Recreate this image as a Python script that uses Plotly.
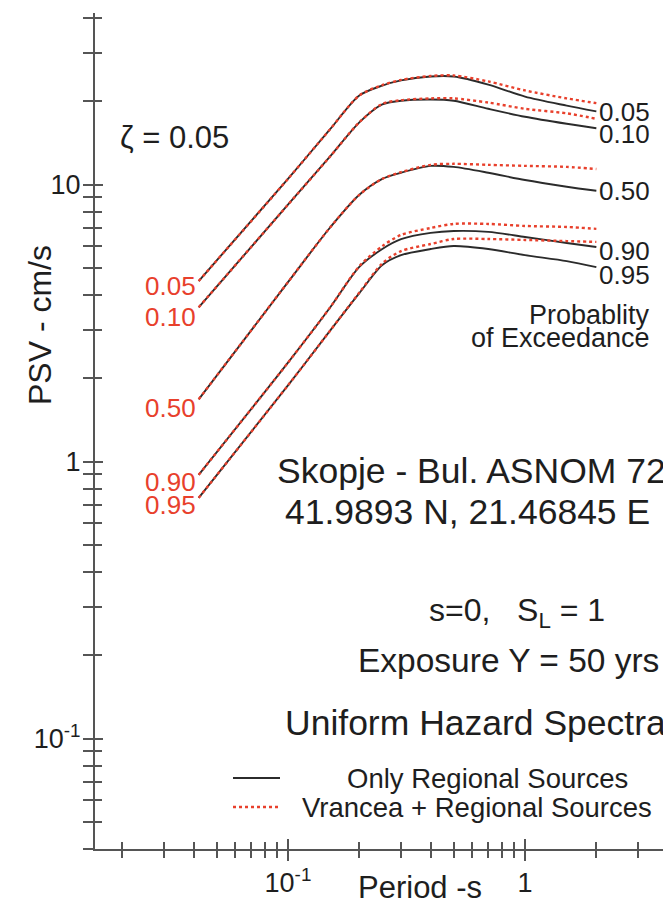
import numpy as np
import plotly.graph_objects as go

# ---------------- data ----------------
periods = [0.042, 0.1, 0.15, 0.2, 0.25, 0.3, 0.4, 0.5, 0.7, 1.0, 1.5, 2.0]
prob_labels = ["0.05", "0.10", "0.50", "0.90", "0.95"]

regional = {
    "0.05": [4.49, 10.5, 15.8, 21.0, 22.8, 23.8, 24.6, 24.6, 23.0, 20.8, 19.3, 18.4],
    "0.10": [3.61, 8.47, 12.6, 16.8, 19.5, 20.1, 20.3, 20.1, 18.8, 17.6, 16.6, 16.0],
    "0.50": [1.68, 4.45, 6.98, 9.2, 10.5, 11.05, 11.7, 11.6, 11.05, 10.4, 9.84, 9.51],
    "0.90": [0.897, 2.28, 3.59, 5.05, 5.86, 6.36, 6.70, 6.81, 6.76, 6.48, 6.16, 5.96],
    "0.95": [0.741, 1.886, 2.96, 4.06, 5.13, 5.57, 5.86, 6.01, 5.86, 5.57, 5.30, 5.04],
}
vrancea = {
    "0.05": [4.49, 10.5, 15.8, 21.0, 22.9, 23.9, 24.7, 24.8, 23.6, 21.9, 20.5, 19.7],
    "0.10": [3.61, 8.47, 12.6, 16.8, 19.6, 20.2, 20.5, 20.5, 19.8, 18.8, 18.1, 17.3],
    "0.50": [1.68, 4.45, 6.98, 9.2, 10.5, 11.1, 11.8, 11.9, 11.8, 11.7, 11.6, 11.4],
    "0.90": [0.897, 2.28, 3.59, 5.08, 6.0, 6.59, 6.98, 7.22, 7.22, 7.10, 7.04, 6.93],
    "0.95": [0.741, 1.886, 2.96, 4.08, 5.2, 5.76, 6.11, 6.37, 6.37, 6.32, 6.26, 6.22],
}

x_major = [0.1, 1]
x_major_text = ["10<sup>-1</sup>", "1"]
x_minor = [0.02, 0.03, 0.04, 0.05, 0.06, 0.07, 0.08, 0.09,
           0.2, 0.3, 0.4, 0.5, 0.6, 0.7, 0.8, 0.9, 2, 3, 4]
y_major = [0.1, 1, 10]
y_major_text = ["10<sup>-1</sup>", "1", "10"]
y_minor = [0.04, 0.05, 0.06, 0.07, 0.08, 0.09,
           0.2, 0.3, 0.4, 0.5, 0.6, 0.7, 0.8, 0.9,
           2, 3, 4, 5, 6, 7, 8, 9, 20, 30, 40]

# ---------------- styling / layout ----------------
W, H = 671, 904
OFF = 8                      # page offset of the figure (default body margin)
# plot area in page pixels
PL, PR, PT, PB = 95, 671, 13, 849
L, T = PL - OFF, PT - OFF
R = W - (PR - OFF)
B = H - (PB - OFF)
FONT = "Liberation Sans, Arial, Helvetica, sans-serif"
BLACK = "#2b2b2b"
RED = "#e8402c"
AXC = "#555555"
TXT = "#1e1e1e"

xr = [np.log10(0.01534), 0.616]
yr = [np.log10(0.0400), 1.62]


def px(xp):
    return (xp - PL) / (PR - PL)


def py(yp):
    return (PB - yp) / (PB - PT)


fig = go.Figure()

for p in prob_labels:
    fig.add_trace(go.Scatter(
        x=periods, y=regional[p], mode="lines",
        line=dict(color=BLACK, width=1.9, shape="spline", smoothing=0.8),
        xaxis="x", yaxis="y", showlegend=False, hoverinfo="skip"))
for p in prob_labels:
    fig.add_trace(go.Scatter(
        x=periods, y=vrancea[p], mode="lines",
        line=dict(color=RED, width=2.4, dash="dot", shape="spline", smoothing=0.8),
        xaxis="x2", yaxis="y2", showlegend=False, hoverinfo="skip"))

tickstyle = dict(tickcolor=AXC, tickwidth=1.6)

fig.update_layout(
    width=W, height=H,
    margin=dict(l=L, r=R, t=T, b=B),
    paper_bgcolor="white", plot_bgcolor="white",
    font=dict(family=FONT, color=TXT),
    showlegend=False,
    xaxis=dict(type="log", range=xr, showgrid=False, zeroline=False,
               showline=True, linecolor=AXC, linewidth=2,
               tickmode="array", tickvals=x_major, ticktext=x_major_text,
               ticks="outside", ticklen=10, **tickstyle,
               tickfont=dict(size=27, family=FONT, color=TXT),
               ticklabelstandoff=-1,
               minor=dict(tickmode="array", tickvals=x_minor, ticks="outside",
                          ticklen=7, **tickstyle, showgrid=False)),
    yaxis=dict(type="log", range=yr, showgrid=False, zeroline=False,
               showline=True, linecolor=AXC, linewidth=2,
               tickmode="array", tickvals=y_major, ticktext=y_major_text,
               ticks="outside", ticklen=10, **tickstyle,
               tickfont=dict(size=27, family=FONT, color=TXT),
               ticklabelstandoff=-3,
               minor=dict(tickmode="array", tickvals=y_minor, ticks="outside",
                          ticklen=10, **tickstyle, showgrid=False)),
    xaxis2=dict(type="log", range=xr, overlaying="x", anchor="y2",
                showgrid=False, zeroline=False, showline=False,
                showticklabels=False,
                tickmode="array", tickvals=x_major,
                ticks="inside", ticklen=10, **tickstyle,
                minor=dict(tickmode="array", tickvals=x_minor, ticks="inside",
                           ticklen=7, **tickstyle, showgrid=False)),
    yaxis2=dict(type="log", range=yr, overlaying="y", anchor="x2",
                showgrid=False, zeroline=False, showline=False,
                showticklabels=False,
                tickmode="array", tickvals=y_major,
                ticks="inside", ticklen=8, **tickstyle,
                minor=dict(tickmode="array", tickvals=y_minor, ticks="inside",
                           ticklen=7, **tickstyle, showgrid=False)),
)

ann = []

# curve labels: red on the left (start), black on the right (end)
left_shift = [-5, -10, -9, -7, -7]
right_shift = [-1, -6, 0, -4, -8]
for i, p in enumerate(prob_labels):
    ann.append(dict(x=np.log10(periods[0]), y=np.log10(vrancea[p][0]),
                    xref="x", yref="y", text=p, showarrow=False,
                    xanchor="right", yanchor="middle", xshift=-1, yshift=left_shift[i],
                    font=dict(size=26, color=RED, family=FONT)))
    ann.append(dict(x=np.log10(periods[-1]), y=np.log10(regional[p][-1]),
                    xref="x", yref="y", text=p, showarrow=False,
                    xanchor="left", yanchor="middle", xshift=1, yshift=right_shift[i],
                    font=dict(size=26, color=TXT, family=FONT)))


def txt(text, x, y, size, xanchor="left", color=TXT, angle=0):
    ann.append(dict(x=px(x), y=py(y), xref="paper", yref="paper", text=text,
                    showarrow=False, xanchor=xanchor, yanchor="middle",
                    textangle=angle, font=dict(size=size, color=color, family=FONT)))


txt("ζ = 0.05", 118, 137, 31)
txt("Probablity", 652, 315, 27, xanchor="right")
txt("of Exceedance", 652, 338, 27, xanchor="right")
txt("Skopje - Bul. ASNOM 72", 275, 471, 35.5)
txt("41.9893 N, 21.46845 E", 283, 512, 35.5)
txt("s=0,&nbsp;&nbsp;&nbsp;S<sub>L</sub> = 1", 517, 612, 32, xanchor="center")
txt("Exposure Y = 50 yrs", 508, 660, 33.5, xanchor="center")
txt("Uniform Hazard Spectra", 283, 723, 35.5)
txt("Only Regional Sources", 345, 778, 27.5)
txt("Vrancea + Regional Sources", 300, 807, 27.5)
txt("PSV - cm/s", 40, 325, 32, xanchor="center", angle=-90)
txt("Period -s", 420, 887, 31, xanchor="center")

fig.update_layout(annotations=ann)

# legend key samples
fig.add_shape(type="line", xref="paper", yref="paper",
              x0=px(233), x1=px(280), y0=py(778), y1=py(778),
              line=dict(color=BLACK, width=1.9))
fig.add_shape(type="line", xref="paper", yref="paper",
              x0=px(233), x1=px(280), y0=py(807), y1=py(807),
              line=dict(color=RED, width=2.4, dash="dot"))

fig.write_html("out.html")
